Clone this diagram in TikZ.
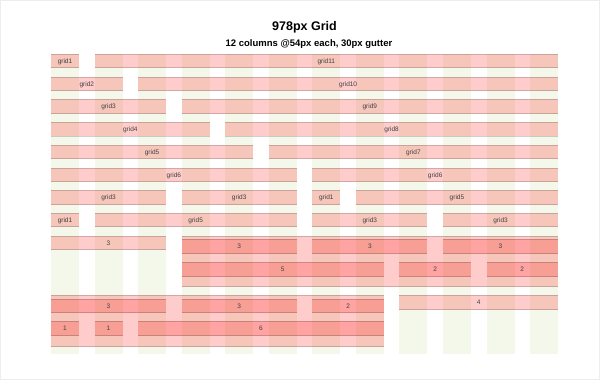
\documentclass[tikz,border=0pt]{standalone}
\usepackage{fontspec}
\setmainfont{Liberation Sans}
\definecolor{colgreen}{HTML}{F4F8EA}
\tikzset{
  box/.style={fill=red, fill opacity=0.2, draw=none, inner sep=0pt, outer sep=0pt},
  edgeline/.style={draw=black, draw opacity=0.18, line width=0.9pt},
  lbl/.style={font=\fontsize{6.5}{7}\selectfont, text=black!75, inner sep=0pt, anchor=base},
  gcol/.style={fill=colgreen, draw=none},
}
\newcommand\gcont[5]{% name, c1, c2, ytop, height
  \pgfmathsetmacro\gbxa{51+43.55*#2}%
  \pgfmathsetmacro\gbw{28+43.55*(#3-#2)}%
  \node[box, anchor=north west, minimum width=\gbw pt, minimum height=#5pt] (#1) at (\gbxa,#4) {};
  \draw[edgeline] ([yshift=-0.45pt]#1.north west) -- ([yshift=-0.45pt]#1.north east);
  \draw[edgeline] ([yshift=0.45pt]#1.south west) -- ([yshift=0.45pt]#1.south east);
}
\newcommand\gbox[6]{% name, c1, c2, ytop, height, label
  \gcont{#1}{#2}{#3}{#4}{#5}%
  \node[lbl] (#1-t) at ([yshift=-2.4pt]#1.center) {#6};
}
\begin{document}
\begin{tikzpicture}[x=1pt,y=-1pt]
\useasboundingbox (0,0) rectangle (600,380);
\fill[white] (0,0) rectangle (600,380);
\draw[black!7] (0.5,0.5) rectangle (599.5,379.5);
% title
\node[font=\bfseries\fontsize{12.5}{14}\selectfont, inner sep=0pt, anchor=base] (title) at (304.5,30) {978px Grid};
\node[font=\bfseries\fontsize{9.5}{11}\selectfont, inner sep=0pt, anchor=base] (subtitle) at (309,46.3) {12 columns @54px each, 30px gutter};
% green columns
\foreach \k in {0,...,11}{
  \fill[gcol] ({51+43.55*\k},54) rectangle ++(28,300);
}
% rows
\gbox{a1}{0}{0}{54}{14.3}{grid1}
\gbox{a2}{1}{11}{54}{14.3}{grid11}
\gbox{b1}{0}{1}{76.7}{14.3}{grid2}
\gbox{b2}{2}{11}{76.7}{14.3}{grid10}
\gbox{c1}{0}{2}{99.4}{14.3}{grid3}
\gbox{c2}{3}{11}{99.4}{14.3}{grid9}
\gbox{d1}{0}{3}{122.1}{14.3}{grid4}
\gbox{d2}{4}{11}{122.1}{14.3}{grid8}
\gbox{e1}{0}{4}{144.8}{14.3}{grid5}
\gbox{e2}{5}{11}{144.8}{14.3}{grid7}
\gbox{f1}{0}{5}{167.5}{14.3}{grid6}
\gbox{f2}{6}{11}{167.5}{14.3}{grid6}
\gbox{g1}{0}{2}{190.2}{14.3}{grid3}
\gbox{g2}{3}{5}{190.2}{14.3}{grid3}
\gbox{g3}{6}{6}{190.2}{14.3}{grid1}
\gbox{g4}{7}{11}{190.2}{14.3}{grid5}
\gbox{h1}{0}{0}{212.9}{14.3}{grid1}
\gbox{h2}{1}{5}{212.9}{14.3}{grid5}
\gbox{h3}{6}{8}{212.9}{14.3}{grid3}
\gbox{h4}{9}{11}{212.9}{14.3}{grid3}
% nested section 1
\gbox{i1}{0}{2}{235.6}{14.5}{3}
\gcont{i2}{3}{11}{235.6}{51.7}
\gbox{j1}{3}{5}{239}{14.6}{3}
\gbox{j2}{6}{8}{239}{14.6}{3}
\gbox{j3}{9}{11}{239}{14.6}{3}
\gbox{k1}{3}{7}{262}{14.6}{5}
\gbox{k2}{8}{9}{262}{14.6}{2}
\gbox{k3}{10}{11}{262}{14.6}{2}
% nested section 2
\gcont{m1}{0}{7}{295.3}{51.4}
\gbox{m2}{8}{11}{295.3}{14.4}{4}
\gbox{n1}{0}{2}{298.7}{14.4}{3}
\gbox{n2}{3}{5}{298.7}{14.4}{3}
\gbox{n3}{6}{7}{298.7}{14.4}{2}
\gbox{p1}{0}{0}{321.3}{14.4}{1}
\gbox{p2}{1}{1}{321.3}{14.4}{1}
\gbox{p3}{2}{7}{321.3}{14.4}{6}
\end{tikzpicture}
\end{document}
